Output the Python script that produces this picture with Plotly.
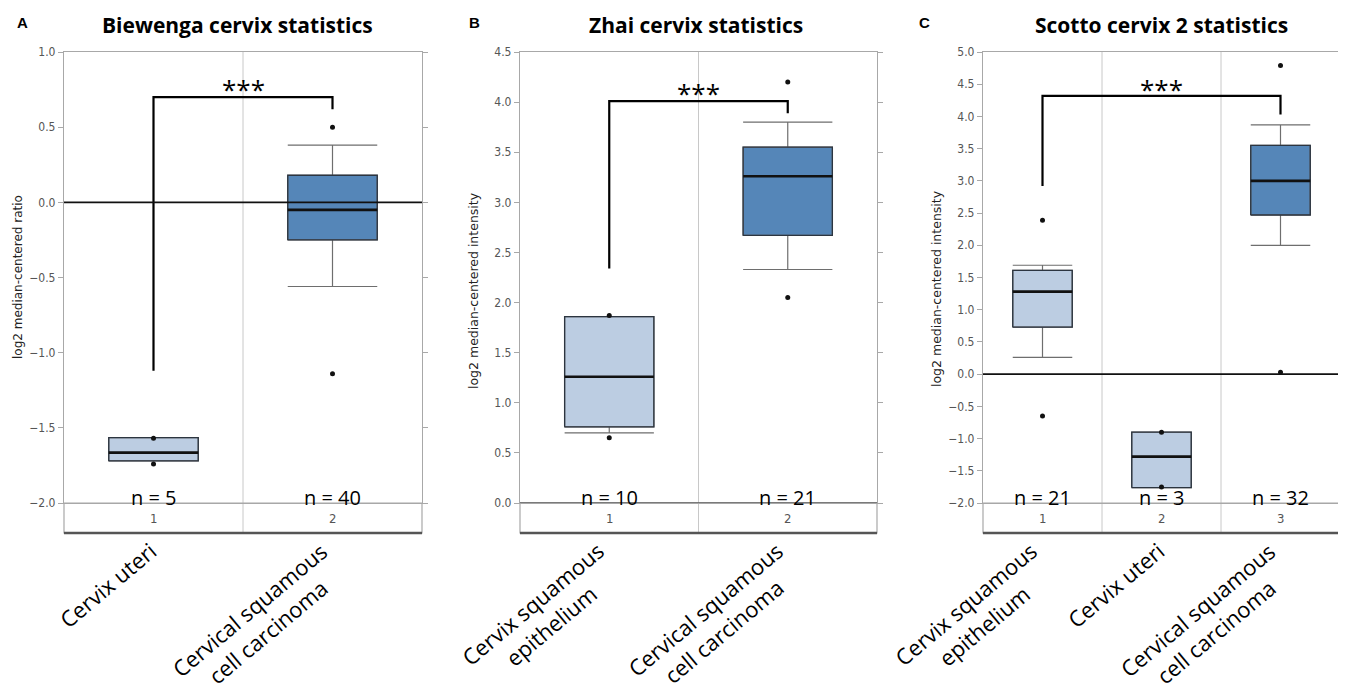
import plotly.graph_objects as go

# ---------------- data ----------------
A_title = "Biewenga cervix statistics"
A_ytitle = "log2 median-centered ratio"
A_categories = ["Cervix uteri", "Cervical squamous<br>cell carcinoma"]
A_ticks = ["1", "2"]
A_n = [5, 40]
A_q1 = [-1.72, -0.25]
A_median = [-1.665, -0.05]
A_q3 = [-1.565, 0.18]
A_lower = [-1.72, -0.56]
A_upper = [-1.565, 0.38]
A_outliers = [[-1.57, -1.74], [0.50, -1.14]]
A_tumour = [False, True]
A_bracket = [-1.12, 0.70, 0.62]   # left end, top, right end
A_compare = [1, 2]
A_star_y = 0.77
A_yrange = [-2.0, 1.0]

B_title = "Zhai cervix statistics"
B_ytitle = "log2 median-centered intensity"
B_categories = ["Cervix squamous<br>epithelium", "Cervical squamous<br>cell carcinoma"]
B_ticks = ["1", "2"]
B_n = [10, 21]
B_q1 = [0.76, 2.67]
B_median = [1.26, 3.26]
B_q3 = [1.86, 3.55]
B_lower = [0.70, 2.33]
B_upper = [1.86, 3.80]
B_outliers = [[1.87, 0.65], [4.20, 2.05]]
B_tumour = [False, True]
B_bracket = [2.34, 4.01, 3.89]
B_compare = [1, 2]
B_star_y = 4.11
B_yrange = [0.0, 4.5]

C_title = "Scotto cervix 2 statistics"
C_ytitle = "log2 median-centered intensity"
C_categories = ["Cervix squamous<br>epithelium", "Cervix uteri", "Cervical squamous<br>cell carcinoma"]
C_ticks = ["1", "2", "3"]
C_n = [21, 3, 32]
C_q1 = [0.73, -1.76, 2.47]
C_median = [1.28, -1.28, 3.00]
C_q3 = [1.61, -0.90, 3.55]
C_lower = [0.26, -1.76, 2.00]
C_upper = [1.69, -0.90, 3.87]
C_outliers = [[2.39, -0.65], [-0.90, -1.75], [4.79, 0.03]]
C_tumour = [False, False, True]
C_bracket = [2.92, 4.32, 4.03]
C_compare = [1, 3]
C_star_y = 4.46
C_yrange = [-2.0, 5.0]

panel_letters = ["A", "B", "C"]

# ---------------- styling / layout ----------------
OFF = 8                      # default page margin of the html body
W, H = 1346 - OFF, 693 - OFF
def px(x): return (x - OFF) / W
def py(y): return 1 - (y - OFF) / H

PLOT_TOP, PLOT_BOTTOM, BAND_BOTTOM = 52, 503, 533
panel_x = [(64, 422), (520, 877), (983, 1340)]
title_x = [237, 696, 1161]
letter_x = [15, 467, 917]
ytitle_pos = [(18, 277), (473, 291), (936, 289)]

LIGHT = "#bccde2"
DARK = "#5586b8"
BOX_EDGE = "#2c3540"
WHISKER = "#6e6e6e"
FRAME = "#a8a8a8"
GRID = "#c8c8c8"
BOXW = 0.5

TEXT_FONT = "Open Sans, Lato, sans-serif"
TICK_FONT = "Liberation Sans Narrow, DejaVu Sans Condensed, sans-serif"

panels = [
    dict(title=A_title, ytitle=A_ytitle, cats=A_categories, ticks=A_ticks, n=A_n, q1=A_q1, med=A_median,
         q3=A_q3, lo=A_lower, hi=A_upper, out=A_outliers, tum=A_tumour, br=A_bracket, cmp=A_compare,
         star=A_star_y, yr=A_yrange),
    dict(title=B_title, ytitle=B_ytitle, cats=B_categories, ticks=B_ticks, n=B_n, q1=B_q1, med=B_median,
         q3=B_q3, lo=B_lower, hi=B_upper, out=B_outliers, tum=B_tumour, br=B_bracket, cmp=B_compare,
         star=B_star_y, yr=B_yrange),
    dict(title=C_title, ytitle=C_ytitle, cats=C_categories, ticks=C_ticks, n=C_n, q1=C_q1, med=C_median,
         q3=C_q3, lo=C_lower, hi=C_upper, out=C_outliers, tum=C_tumour, br=C_bracket, cmp=C_compare,
         star=C_star_y, yr=C_yrange),
]

fig = go.Figure()
layout = dict(width=W, height=H, margin=dict(l=0, r=0, t=0, b=0, autoexpand=False), paper_bgcolor="white",
              plot_bgcolor="white", showlegend=False)

for i, p in enumerate(panels):
    sfx = "" if i == 0 else str(i + 1)
    xa, ya = "x" + sfx, "y" + sfx
    ncat = len(p["cats"])
    pos = list(range(1, ncat + 1))

    for k in range(ncat):
        c = pos[k]
        fig.add_trace(go.Box(
            x=[c], q1=[p["q1"][k]], median=[p["med"][k]], q3=[p["q3"][k]],
            lowerfence=[p["lo"][k]], upperfence=[p["hi"][k]],
            width=BOXW, whiskerwidth=1, boxpoints=False,
            fillcolor=DARK if p["tum"][k] else LIGHT,
            line=dict(color=WHISKER, width=1.2),
            xaxis=xa, yaxis=ya, hoverinfo="skip"))
        # box outline
        fig.add_trace(go.Scatter(
            x=[c - BOXW / 2, c + BOXW / 2, c + BOXW / 2, c - BOXW / 2, c - BOXW / 2],
            y=[p["q1"][k], p["q1"][k], p["q3"][k], p["q3"][k], p["q1"][k]],
            mode="lines", line=dict(color=BOX_EDGE, width=1.3),
            xaxis=xa, yaxis=ya, hoverinfo="skip"))
        # median
        fig.add_trace(go.Scatter(
            x=[c - BOXW / 2, c + BOXW / 2], y=[p["med"][k], p["med"][k]],
            mode="lines", line=dict(color="#111111", width=2.6),
            xaxis=xa, yaxis=ya, hoverinfo="skip"))
        # outliers
        fig.add_trace(go.Scatter(
            x=[c] * len(p["out"][k]), y=p["out"][k], mode="markers",
            marker=dict(color="#111111", size=5),
            xaxis=xa, yaxis=ya, hoverinfo="skip"))

    # significance bracket
    a, b = p["cmp"]
    fig.add_trace(go.Scatter(
        x=[a, a, b, b], y=[p["br"][0], p["br"][1], p["br"][1], p["br"][2]],
        mode="lines", line=dict(color="black", width=2.2),
        xaxis=xa, yaxis=ya, hoverinfo="skip"))
    fig.add_annotation(x=(a + b) / 2, y=p["star"], xref=xa, yref=ya, text="***", showarrow=False,
                       xanchor="center", yanchor="middle", yshift=-2,
                       font=dict(family=TEXT_FONT, size=26, color="black"))

    x0, x1 = panel_x[i]
    layout["xaxis" + sfx] = dict(
        domain=[px(x0), px(x1)], range=[0.5, ncat + 0.5], anchor=ya,
        showgrid=False, zeroline=False, showticklabels=False, ticks="",
        showline=True, linecolor=FRAME, linewidth=1.2, mirror=True, fixedrange=True, automargin=False)
    layout["yaxis" + sfx] = dict(
        domain=[py(PLOT_BOTTOM), py(PLOT_TOP)], range=p["yr"], anchor=xa,
        dtick=0.5, tick0=0, tickformat=".1f", showgrid=False, zeroline=False,
        ticks="outside", ticklen=5, tickcolor=FRAME, tickwidth=1,
        showline=True, linecolor=FRAME, linewidth=1.2, mirror="ticks", automargin=False,
        tickfont=dict(family=TICK_FONT, size=12, color="#555555"), fixedrange=True)

    # black zero line
    fig.add_shape(type="line", xref=xa + " domain", yref=ya, x0=0, x1=1, y0=0, y1=0,
                  line=dict(color="#111111", width=1.6))
    # category band under the plot
    fig.add_shape(type="rect", xref=xa + " domain", yref="paper", x0=0, x1=1,
                  y0=py(BAND_BOTTOM), y1=py(PLOT_BOTTOM), line=dict(color=FRAME, width=1.2))
    fig.add_shape(type="line", xref=xa + " domain", yref="paper", x0=0, x1=1,
                  y0=py(BAND_BOTTOM), y1=py(BAND_BOTTOM), line=dict(color="#555555", width=2.5))
    # vertical separators
    for k in range(ncat - 1):
        fig.add_shape(type="line", xref=xa, yref="paper", x0=pos[k] + 0.5, x1=pos[k] + 0.5,
                      y0=py(BAND_BOTTOM), y1=py(PLOT_TOP), line=dict(color=GRID, width=1), layer="below")

    for k in range(ncat):
        # index labels inside band
        fig.add_annotation(x=pos[k], y=py((PLOT_BOTTOM + BAND_BOTTOM) / 2), xref=xa, yref="paper",
                           text=p["ticks"][k], showarrow=False, xanchor="center", yanchor="middle",
                           font=dict(family=TICK_FONT, size=13, color="#555555"))
        # n labels
        fig.add_annotation(x=pos[k], y=py(497), xref=xa, yref="paper", text="n = %d" % p["n"][k],
                           showarrow=False, xanchor="center", yanchor="middle",
                           font=dict(family=TEXT_FONT, size=20, color="black"))
        # rotated category labels (end of first line sits under the category)
        nlines = p["cats"][k].count("<br>") + 1
        fig.add_annotation(x=pos[k], y=py(539), xref=xa, yref="paper", text=p["cats"][k],
                           showarrow=False, textangle=-40, xanchor="right", yanchor="top",
                           xshift=11 * nlines, yshift=6,
                           align="center", font=dict(family=TEXT_FONT, size=22, color="black"))

    # titles
    fig.add_annotation(x=px(title_x[i]), y=py(25), xref="paper", yref="paper", text="<b>%s</b>" % p["title"],
                       showarrow=False, xanchor="center", yanchor="middle",
                       font=dict(family=TEXT_FONT, size=21, color="black"))
    fig.add_annotation(x=px(letter_x[i]), y=py(23), xref="paper", yref="paper",
                       text="<b>%s</b>" % panel_letters[i], showarrow=False, xanchor="left", yanchor="middle",
                       font=dict(family="Liberation Sans, Arial, sans-serif", size=15, color="black"))
    tx, ty = ytitle_pos[i]
    fig.add_annotation(x=px(tx), y=py(ty), xref="paper", yref="paper", text=p["ytitle"],
                       showarrow=False, textangle=-90, xanchor="center", yanchor="middle",
                       font=dict(family="DejaVu Sans, sans-serif", size=12 if i == 0 else 12.5, color="#222222"))

fig.update_layout(**layout)
fig.write_html("out.html")
